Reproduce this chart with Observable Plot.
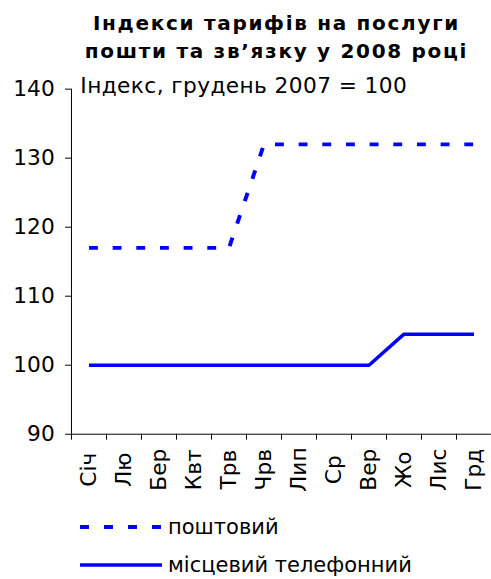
<!DOCTYPE html>
<html>
<head>
<meta charset="utf-8">
<script src="https://cdn.jsdelivr.net/npm/d3@7"></script>
<script src="https://cdn.jsdelivr.net/npm/@observablehq/plot@0.6"></script>
<style>
  html, body { margin: 0; padding: 0; background: #fff; overflow: hidden; width: 491px; height: 579px; }
  body { font-family: "DejaVu Sans", Verdana, sans-serif; color: #000; }
  #title { width: 491px; box-sizing: border-box; padding: 9px 0 0 62px; height: 65px; text-align: center;
           font-weight: bold; font-size: 20px; line-height: 28px; letter-spacing: 1.7px; white-space: nowrap; }
  #chart { height: 440px; overflow: hidden; width: 491px; }
  #legend { padding-left: 80px; margin-top: 3px; }
  .row { display: flex; align-items: center; height: 38px; font-size: 21px; }
  .row svg { display: block; margin-right: 6px; }
</style>
</head>
<body>
<div id="title">Індекси тарифів на послуги<br>пошти та зв’язку у 2008 році</div>
<div id="chart"></div>
<div id="legend"></div>
<script>
const subtitle = "Індекс, грудень 2007 = 100";
const months = ["Січ", "Лю", "Бер", "Квт", "Трв", "Чрв", "Лип", "Ср", "Вер", "Жо", "Лис", "Грд"];
const seriesNames = ["поштовий", "місцевий телефонний"];
const postal = [117, 117, 117, 117, 117, 132, 132, 132, 132, 132, 132, 132];
const localPhone = [100, 100, 100, 100, 100, 100, 100, 100, 100, 104.5, 104.5, 104.5];
const yTicks = [90, 100, 110, 120, 130, 140];

const blue = "#0000ff";
const toRows = (vals) => vals.map((v, i) => ({i, v}));
const boundaries = d3.range(-0.5, months.length, 1);

const plot = Plot.plot({
  width: 498,
  height: 440,
  marginLeft: 72,
  marginRight: 0,
  marginTop: 24,
  marginBottom: 66,
  style: {fontFamily: "DejaVu Sans, Verdana, sans-serif", fontSize: "22px", color: "#000", background: "#fff", overflow: "visible"},
  x: {type: "linear", domain: [-0.5, months.length - 0.5]},
  y: {domain: [90, 140]},
  marks: [
    Plot.axisY({ticks: yTicks, tickSize: 6, tickPadding: 11, label: null, fontSize: 22}),
    Plot.axisX({ticks: boundaries, tickSize: 6, tickFormat: () => "", label: null}),
    Plot.ruleX([-0.5], {y1: 90, y2: 140, stroke: "#000", strokeWidth: 1}),
    Plot.ruleY([90], {stroke: "#000", strokeWidth: 1}),
    Plot.text(months, {x: (d, i) => i, text: d => d, frameAnchor: "bottom", rotate: -90, dy: 36,
      textAnchor: "middle", lineAnchor: "middle", fontSize: 22, fill: "#000"}),
    Plot.text([subtitle], {frameAnchor: "top-left", dx: 9, dy: -3, textAnchor: "start", lineAnchor: "middle",
      fontSize: 22, fill: "#000", style: "letter-spacing:0.4px"}),
    Plot.line(toRows(postal), {x: "i", y: "v", stroke: blue, strokeWidth: 4, strokeDasharray: "9,15", strokeLinecap: "butt", strokeLinejoin: "miter"}),
    Plot.line(toRows(localPhone), {x: "i", y: "v", stroke: blue, strokeWidth: 3.5, strokeLinecap: "butt"})
  ]
});
plot.querySelectorAll("text").forEach(t => {
  if (t.textContent === subtitle) t.setAttribute("letter-spacing", "0.4");
});
document.getElementById("chart").appendChild(plot);

const legend = document.getElementById("legend");
const styles = [{w: 4, dash: "9,15"}, {w: 3.5, dash: null}];
seriesNames.forEach((name, k) => {
  const row = document.createElement("div");
  row.className = "row";
  const s = styles[k];
  row.innerHTML = `<svg width="82" height="10"><line x1="0" x2="82" y1="5" y2="5" stroke="${blue}" stroke-width="${s.w}" ${s.dash ? `stroke-dasharray="${s.dash}"` : ""}/></svg><span>${name}</span>`;
  legend.appendChild(row);
});
</script>
</body>
</html>
